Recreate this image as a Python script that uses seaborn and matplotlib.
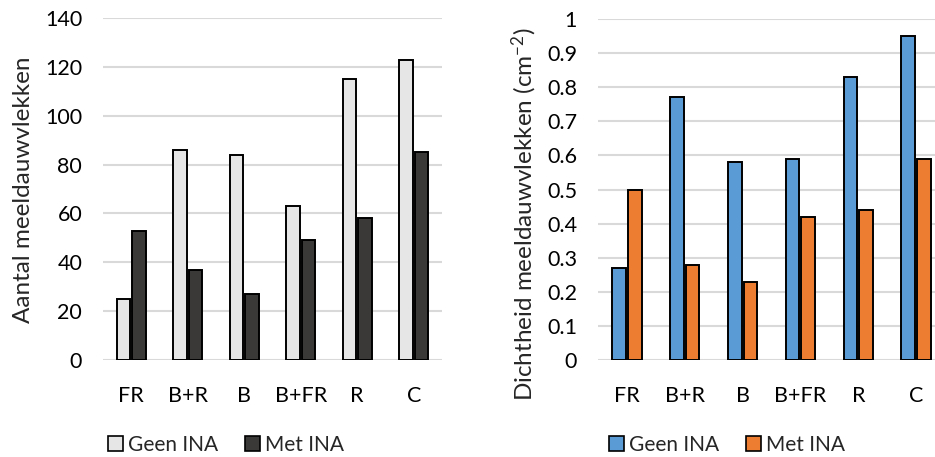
import numpy as np
import pandas as pd
import matplotlib
matplotlib.use("Agg")
import matplotlib.pyplot as plt
import seaborn as sns
from matplotlib.patches import Patch

categories = ["FR", "B+R", "B", "B+FR", "R", "C"]
series = ["Geen INA", "Met INA"]
aantal_geen = [25, 86, 84, 63, 115, 123]
aantal_met = [53, 37, 27, 49, 58, 85]
dicht_geen = [0.27, 0.77, 0.58, 0.59, 0.83, 0.95]
dicht_met = [0.50, 0.28, 0.23, 0.42, 0.44, 0.59]
left_ticks = [0, 20, 40, 60, 80, 100, 120, 140]
right_ticks = [0, 0.1, 0.2, 0.3, 0.4, 0.5, 0.6, 0.7, 0.8, 0.9, 1]
right_ticklabels = ["0", "0.1", "0.2", "0.3", "0.4", "0.5", "0.6", "0.7", "0.8", "0.9", "1"]

sns.set_theme(style="white")
plt.rcParams['font.family'] = ['Lato', 'DejaVu Sans']
plt.rcParams['mathtext.fontset'] = 'custom'
plt.rcParams['mathtext.rm'] = 'Lato'
plt.rcParams['mathtext.it'] = 'Lato:italic'

def long(a, b):
    return pd.DataFrame({
        "cat": categories * 2,
        "serie": [series[0]] * len(categories) + [series[1]] * len(categories),
        "val": list(a) + list(b),
    })

fig = plt.figure(figsize=(9.35, 4.57), dpi=100)
axL = fig.add_axes([103/935, 1-360/457, 339/935, 342/457])
axR = fig.add_axes([598/935, 1-360/457, 347/935, 341/457])

left_colors = ["#E7E6E6", "#3B3838"]
right_colors = ["#5B9BD5", "#ED7D31"]

for ax, df, cols in [(axL, long(aantal_geen, aantal_met), left_colors),
                     (axR, long(dicht_geen, dicht_met), right_colors)]:
    sns.barplot(data=df, x="cat", y="val", hue="serie", palette=cols,
                saturation=1, width=0.54, gap=0.12, edgecolor="black",
                linewidth=1.4, ax=ax, legend=False, zorder=3)
    for s in ax.spines.values():
        s.set_visible(False)
    ax.yaxis.grid(True, color="#D9D9D9", linewidth=1.5, zorder=0)
    ax.set_axisbelow(True)
    ax.tick_params(axis="both", length=0, labelsize=15.5, colors="black")
    ax.tick_params(axis="x", pad=19)
    ax.tick_params(axis="y", pad=15)
    ax.set_xlabel("")
    ax.set_xlim(-0.5, 5.5)

axL.set_ylim(0, 140)
axL.set_yticks(left_ticks)
axL.set_ylabel("Aantal meeldauwvlekken", fontsize=17.5)
axL.yaxis.set_label_coords(-69/339, (360-190)/342)
axR.set_ylim(0, 1)
axR.set_yticks(right_ticks)
axR.set_yticklabels(right_ticklabels)
axR.set_ylabel("Dichtheid meeldauwvlekken (cm$^{-2}$)", fontsize=17.5)
axR.yaxis.set_label_coords(-59/347, (360-214)/341)

for cols, cx in [(left_colors, 226), (right_colors, 727)]:
    handles = [Patch(facecolor=c, edgecolor="black", linewidth=1.2) for c in cols]
    fig.legend(handles, series, loc="center", bbox_to_anchor=(cx/935, 1-445/457),
               ncol=2, frameon=False, fontsize=15, handlelength=0.7,
               handleheight=0.7, handletextpad=0.25, columnspacing=1.3)

fig.savefig("out.png", dpi=100)
